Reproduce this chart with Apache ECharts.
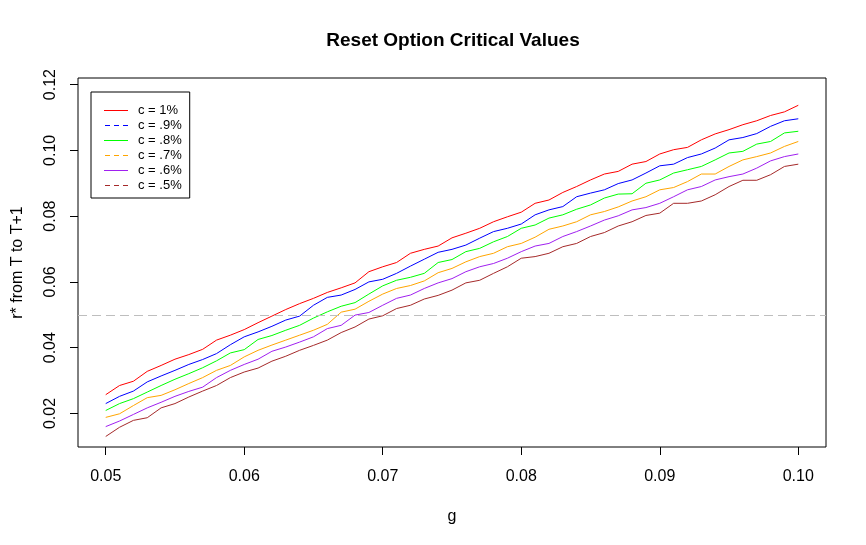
<!DOCTYPE html>
<html>
<head>
<meta charset="utf-8">
<title>Reset Option Critical Values</title>
<script src="https://cdn.jsdelivr.net/npm/echarts@6/dist/echarts.min.js"></script>
<style>
  html, body { margin: 0; padding: 0; background: #fff; }
  #chart { width: 866px; height: 545px; }
</style>
</head>
<body>
<div id="chart"></div>
<script>
// g values on the x axis
const gValues = [
  0.050, 0.051, 0.052, 0.053, 0.054, 0.055, 0.056, 0.057, 0.058, 0.059,
  0.060, 0.061, 0.062, 0.063, 0.064, 0.065, 0.066, 0.067, 0.068, 0.069,
  0.070, 0.071, 0.072, 0.073, 0.074, 0.075, 0.076, 0.077, 0.078, 0.079,
  0.080, 0.081, 0.082, 0.083, 0.084, 0.085, 0.086, 0.087, 0.088, 0.089,
  0.090, 0.091, 0.092, 0.093, 0.094, 0.095, 0.096, 0.097, 0.098, 0.099,
  0.100
];

// critical r* values, one array per c
const c1 = [
  0.0257, 0.0285, 0.0298, 0.0328, 0.0346, 0.0365, 0.0379, 0.0395, 0.0423, 0.0438,
  0.0455, 0.0476, 0.0496, 0.0516, 0.0534, 0.0550, 0.0568, 0.0582, 0.0597, 0.0631,
  0.0646, 0.0659, 0.0687, 0.0699, 0.0709, 0.0734, 0.0748, 0.0763, 0.0783, 0.0798,
  0.0812, 0.0839, 0.0849, 0.0872, 0.0890, 0.0910, 0.0928, 0.0936, 0.0958, 0.0966,
  0.0989, 0.1002, 0.1009, 0.1032, 0.1050, 0.1063, 0.1078, 0.1090, 0.1106, 0.1117,
  0.1137
];
const c09 = [
  0.0230, 0.0252, 0.0268, 0.0296, 0.0314, 0.0331, 0.0349, 0.0364, 0.0382, 0.0409,
  0.0433, 0.0448, 0.0465, 0.0484, 0.0496, 0.0529, 0.0553, 0.0560, 0.0577, 0.0600,
  0.0608, 0.0626, 0.0648, 0.0669, 0.0690, 0.0699, 0.0712, 0.0733, 0.0753, 0.0763,
  0.0776, 0.0804, 0.0819, 0.0829, 0.0859, 0.0870, 0.0880, 0.0899, 0.0910, 0.0931,
  0.0953, 0.0958, 0.0978, 0.0989, 0.1007, 0.1032, 0.1039, 0.1051, 0.1073, 0.1090,
  0.1096
];
const c08 = [
  0.0209, 0.0230, 0.0245, 0.0265, 0.0285, 0.0304, 0.0321, 0.0339, 0.0360, 0.0384,
  0.0394, 0.0425, 0.0437, 0.0453, 0.0468, 0.0490, 0.0509, 0.0526, 0.0537, 0.0563,
  0.0588, 0.0605, 0.0614, 0.0626, 0.0659, 0.0668, 0.0692, 0.0702, 0.0722, 0.0738,
  0.0763, 0.0773, 0.0794, 0.0804, 0.0821, 0.0834, 0.0855, 0.0867, 0.0868, 0.0900,
  0.0910, 0.0931, 0.0941, 0.0951, 0.0971, 0.0992, 0.0997, 0.1019, 0.1027, 0.1053,
  0.1058
];
const c07 = [
  0.0188, 0.0199, 0.0224, 0.0248, 0.0255, 0.0272, 0.0291, 0.0309, 0.0331, 0.0346,
  0.0372, 0.0392, 0.0408, 0.0423, 0.0438, 0.0453, 0.0471, 0.0508, 0.0517, 0.0541,
  0.0563, 0.0580, 0.0589, 0.0603, 0.0628, 0.0641, 0.0661, 0.0677, 0.0687, 0.0707,
  0.0717, 0.0736, 0.0760, 0.0770, 0.0783, 0.0804, 0.0814, 0.0828, 0.0846, 0.0859,
  0.0880, 0.0887, 0.0905, 0.0928, 0.0928, 0.0951, 0.0971, 0.0981, 0.0992, 0.1012,
  0.1027
];
const c06 = [
  0.0160, 0.0177, 0.0197, 0.0217, 0.0234, 0.0252, 0.0267, 0.0280, 0.0309, 0.0331,
  0.0349, 0.0365, 0.0389, 0.0402, 0.0417, 0.0433, 0.0458, 0.0468, 0.0499, 0.0507,
  0.0529, 0.0550, 0.0560, 0.0580, 0.0597, 0.0610, 0.0631, 0.0646, 0.0656, 0.0672,
  0.0692, 0.0709, 0.0717, 0.0738, 0.0753, 0.0770, 0.0788, 0.0801, 0.0819, 0.0826,
  0.0839, 0.0859, 0.0880, 0.0890, 0.0910, 0.0920, 0.0928, 0.0946, 0.0968, 0.0981,
  0.0989
];
const c05 = [
  0.0130, 0.0158, 0.0179, 0.0187, 0.0217, 0.0230, 0.0250, 0.0268, 0.0285, 0.0309,
  0.0326, 0.0338, 0.0359, 0.0374, 0.0392, 0.0407, 0.0423, 0.0446, 0.0463, 0.0487,
  0.0497, 0.0519, 0.0529, 0.0548, 0.0559, 0.0575, 0.0597, 0.0605, 0.0626, 0.0646,
  0.0672, 0.0677, 0.0687, 0.0707, 0.0717, 0.0738, 0.0750, 0.0770, 0.0783, 0.0802,
  0.0809, 0.0839, 0.0839, 0.0846, 0.0865, 0.0890, 0.0909, 0.0909, 0.0926, 0.0951,
  0.0958
];

const seriesNames = ['c = 1%', 'c = .9%', 'c = .8%', 'c = .7%', 'c = .6%', 'c = .5%'];
const seriesColors = ['#FF0000', '#0000FF', '#00FF00', '#FFA500', '#A020F0', '#A52A2A'];
const legendDashed = [false, true, false, true, false, true];
const seriesValues = [c1, c09, c08, c07, c06, c05];

const xTicks = [0.05, 0.06, 0.07, 0.08, 0.09, 0.10];
const yTicks = [0.02, 0.04, 0.06, 0.08, 0.10, 0.12];
const refLine = 0.05;

const font = 'Liberation Sans, Arial, sans-serif';

// legend keys drawn in a 24x13 box; tiny corner specks hold the box size
const boxSpecks = 'M0,0h0.01v0.01h-0.01z M23.99,12.99h0.01v0.01h-0.01z ';
const solidKey = 'path://' + boxSpecks + 'M0,6h24v1h-24z';
const dashedKey = 'path://' + boxSpecks + 'M1,6h5v1h-5z M10,6h5v1h-5z M19,6h5v1h-5z';

const chart = echarts.init(document.getElementById('chart'), null, { renderer: 'canvas' });

const series = seriesValues.map((vals, i) => ({
  name: seriesNames[i],
  type: 'line',
  symbol: 'none',
  animation: false,
  data: vals.map((v, j) => [gValues[j], v]),
  lineStyle: { color: seriesColors[i], width: 1 },
  itemStyle: { color: seriesColors[i] },
  z: 3
}));

// grey dashed reference line
series.push({
  name: 'ref',
  type: 'line',
  data: [],
  markLine: {
    silent: true,
    symbol: 'none',
    label: { show: false },
    lineStyle: { color: '#BEBEBE', type: [9, 5], width: 1 },
    data: [{ yAxis: refLine }]
  }
});

const option = {
  backgroundColor: '#ffffff',
  animation: false,
  title: {
    text: 'Reset Option Critical Values',
    left: 448,
    top: 26,
    textAlign: 'center',
    textStyle: { fontFamily: font, fontSize: 19, fontWeight: 'bold', color: '#000' }
  },
  legend: {
    orient: 'vertical',
    left: 91,
    top: 92,
    data: seriesNames.map((n, i) => ({
      name: n,
      icon: legendDashed[i] ? dashedKey : solidKey,
      itemStyle: { color: seriesColors[i], borderWidth: 0 }
    })),
    itemWidth: 24,
    itemHeight: 13,
    itemGap: 2,
    padding: [12, 8, 6, 13],
    borderColor: '#000',
    borderWidth: 1,
    textStyle: { fontFamily: font, fontSize: 13, color: '#000', padding: [0, 0, 0, 5] }
  },
  grid: {
    left: 78,
    top: 78,
    right: 40,
    bottom: 98,
    show: true,
    borderColor: '#000',
    borderWidth: 1,
    backgroundColor: 'transparent'
  },
  xAxis: {
    type: 'value',
    min: 0.048,
    max: 0.102,
    name: 'g',
    nameLocation: 'middle',
    nameGap: 62,
    nameTextStyle: { fontFamily: font, fontSize: 16, color: '#000' },
    axisLine: { show: false },
    splitLine: { show: false },
    axisTick: { show: true, inside: false, length: 8, customValues: xTicks, lineStyle: { color: '#000' } },
    axisLabel: {
      customValues: xTicks,
      margin: 22,
      fontFamily: font,
      fontSize: 16,
      color: '#000',
      formatter: v => v.toFixed(2)
    }
  },
  yAxis: {
    type: 'value',
    min: 0.0098,
    max: 0.122,
    name: 'r* from T to T+1',
    nameLocation: 'middle',
    nameGap: 52,
    nameRotate: 90,
    nameTextStyle: { fontFamily: font, fontSize: 16, color: '#000' },
    axisLine: { show: false },
    splitLine: { show: false },
    axisTick: { show: true, inside: false, length: 8, customValues: yTicks, lineStyle: { color: '#000' } },
    axisLabel: {
      customValues: yTicks,
      rotate: 90,
      margin: 19,
      fontFamily: font,
      fontSize: 16,
      color: '#000',
      formatter: v => v.toFixed(2)
    }
  },
  series: series
};

chart.setOption(option);
</script>
</body>
</html>
